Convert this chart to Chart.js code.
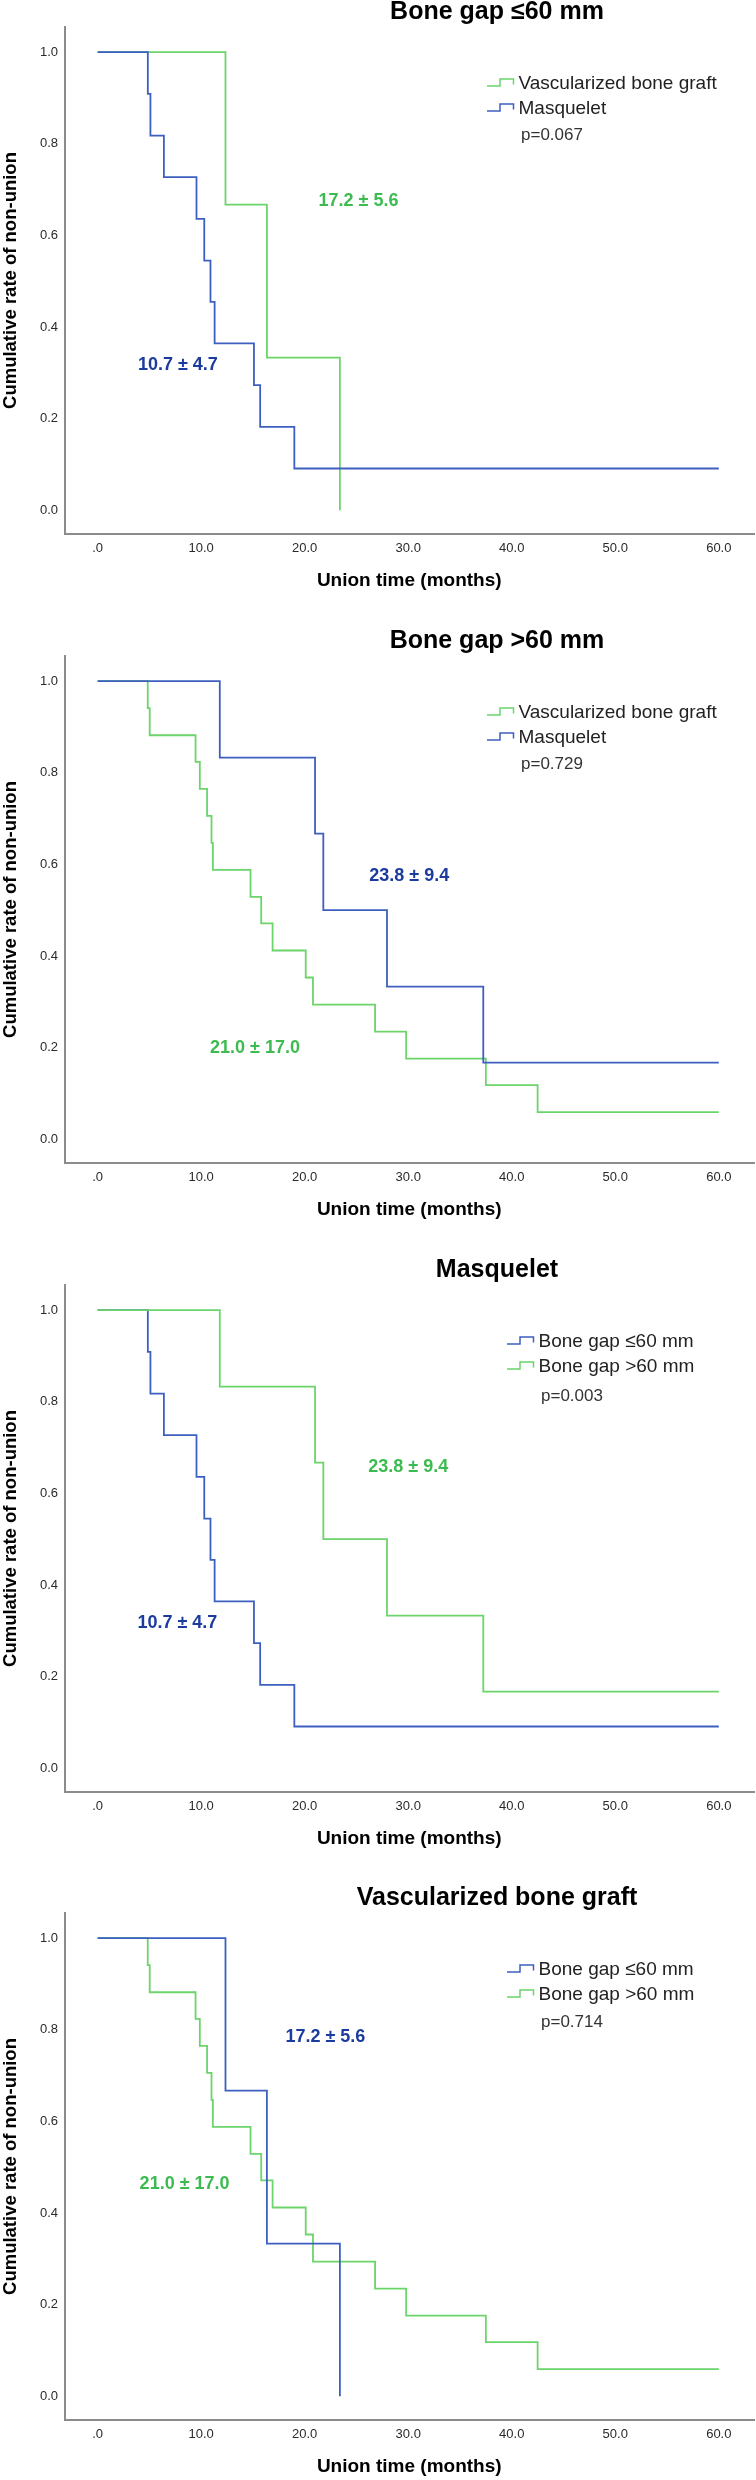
<!DOCTYPE html>
<html>
<head>
<meta charset="utf-8">
<title>Union time - Kaplan-Meier</title>
<script src="https://cdn.jsdelivr.net/npm/chart.js@4.4.1/dist/chart.umd.min.js"></script>
<style>
    html, body { margin: 0; padding: 0; background: #fff; overflow: hidden; }
    #page { position: relative; width: 756px; height: 2480px; }
    .panel { position: absolute; left: 0; width: 756px; height: 620px; }
</style>
</head>
<body>
<div id="page">
    <div class="panel" style="top:0px"><canvas id="chart1" width="756" height="620"></canvas></div>
    <div class="panel" style="top:629px"><canvas id="chart2" width="756" height="620"></canvas></div>
    <div class="panel" style="top:1258px"><canvas id="chart3" width="756" height="620"></canvas></div>
    <div class="panel" style="top:1886px"><canvas id="chart4" width="756" height="620"></canvas></div>
</div>
<script>
// ------------------------------------------------------------------------------------------------- data section
var x_ticks = [0, 10, 20, 30, 40, 50, 60];
var y_ticks = [0, 0.2, 0.4, 0.6, 0.8, 1.0];

// Masquelet, bone gap <=60 mm
var masq_small_time = [0, 4.85, 5.1, 6.4, 9.55, 10.3, 10.9, 11.3, 15.1, 15.7, 19.0, 60];
var masq_small_rate = [1, 0.909, 0.818, 0.727, 0.636, 0.545, 0.455, 0.364, 0.273, 0.182, 0.091, 0.091];

// Masquelet, bone gap >60 mm
var masq_large_time = [0, 11.8, 21.0, 21.8, 27.95, 37.25, 60];
var masq_large_rate = [1, 0.833, 0.667, 0.5, 0.333, 0.167, 0.167];

// Vascularized bone graft, bone gap <=60 mm
var vbg_small_time = [0, 12.35, 16.35, 23.4];
var vbg_small_rate = [1, 0.667, 0.333, 0];

// Vascularized bone graft, bone gap >60 mm
var vbg_large_time = [0, 4.84, 5.03, 9.46, 9.87, 10.57, 11.0, 11.13, 14.77, 15.8, 16.9, 20.1, 20.8, 26.8, 29.8, 37.5, 42.5, 60];
var vbg_large_rate = [1, 0.941, 0.882, 0.824, 0.765, 0.706, 0.647, 0.588, 0.529, 0.471, 0.412, 0.353, 0.294, 0.235, 0.176, 0.118, 0.059, 0.059];

var panel_titles = ['Bone gap \u226460 mm', 'Bone gap >60 mm', 'Masquelet', 'Vascularized bone graft'];
var p_values = ['p=0.067', 'p=0.729', 'p=0.003', 'p=0.714'];
var union_means = ['10.7 \u00b1 4.7', '23.8 \u00b1 9.4', '17.2 \u00b1 5.6', '21.0 \u00b1 17.0'];

// ------------------------------------------------------------------------------------------------- style section
const FONT = "'Liberation Sans', Arial, sans-serif";
const BLUE = '#3d5fc0';
const GREEN = '#6bd46b';
const BLUE_TXT = '#1c3b9e';
const GREEN_TXT = '#3cbc50';

function points(t, r) {
    return t.map(function (v, i) { return { x: v, y: r[i] }; });
}

function km_set(label, t, r, color, order) {
    return {
        label: label,
        data: points(t, r),
        borderColor: color,
        borderWidth: 1.8,
        stepped: 'before',
        pointRadius: 0,
        fill: false,
        order: order
    };
}

// titles, legend, p value and the mean +- sd labels
const kmText = {
    id: 'kmText',
    afterDraw(chart, args, opts) {
        const ctx = chart.ctx;
        const area = chart.chartArea;
        const sx = chart.scales.x, sy = chart.scales.y;
        ctx.save();
        ctx.textBaseline = 'middle';

        ctx.fillStyle = '#000';
        ctx.textAlign = 'center';
        ctx.font = 'bold 25px ' + FONT;
        ctx.fillText(opts.title, 497, 12);

        ctx.font = 'bold 19px ' + FONT;
        ctx.fillText('Union time (months)', (area.left + area.right) / 2, 581);

        ctx.save();
        ctx.translate(11, (area.top + area.bottom) / 2);
        ctx.rotate(-Math.PI / 2);
        ctx.font = 'bold 18.5px ' + FONT;
        ctx.fillText('Cumulative rate of non-union', 0, 0);
        ctx.restore();

        // legend with the little step symbol
        const lx = opts.legendX;
        const rows = [83.5, 108.5];
        chart.data.datasets.forEach(function (ds, i) {
            const ly = rows[i];
            ctx.strokeStyle = ds.borderColor;
            ctx.lineWidth = 1.5;
            ctx.beginPath();
            ctx.moveTo(lx, ly + 2.5);
            ctx.lineTo(lx + 13, ly + 2.5);
            ctx.lineTo(lx + 13, ly - 4.5);
            ctx.lineTo(lx + 26.5, ly - 4.5);
            ctx.lineTo(lx + 26.5, ly + 1);
            ctx.stroke();
            ctx.fillStyle = '#222';
            ctx.textAlign = 'left';
            ctx.font = '19px ' + FONT;
            ctx.fillText(ds.label, lx + 31.5, ly);
        });
        ctx.fillStyle = '#333';
        ctx.font = '17px ' + FONT;
        ctx.fillText(opts.p, lx + 34, opts.pY);

        // mean +- sd
        ctx.textAlign = 'center';
        ctx.font = 'bold 18px ' + FONT;
        opts.notes.forEach(function (n) {
            ctx.fillStyle = n.color;
            ctx.fillText(n.text, sx.getPixelForValue(n.x), sy.getPixelForValue(n.y));
        });
        ctx.restore();
    }
};

function make_chart(id, datasets, opts) {
    const ctx = document.getElementById(id).getContext('2d');
    return new Chart(ctx, {
        type: 'line',
        data: { datasets: datasets },
        options: {
            responsive: false,
            animation: false,
            devicePixelRatio: 1,
            layout: { padding: { top: 27, left: 0, right: 2, bottom: 0 } },
            plugins: {
                legend: { display: false },
                title: { display: false },
                tooltip: { enabled: false },
                kmText: opts
            },
            scales: {
                x: {
                    type: 'linear',
                    min: -3.2,
                    max: 63.4,
                    afterBuildTicks: function (s) { s.ticks = x_ticks.map(function (v) { return { value: v }; }); },
                    afterFit: function (s) { s.height = 86; },
                    grid: { display: false, drawTicks: false },
                    border: { display: true, color: '#8c8c8c', width: 2 },
                    ticks: {
                        padding: 7,
                        color: '#2a2a2a',
                        font: { family: FONT, size: 13 },
                        maxRotation: 0,
                        callback: function (v) { return v === 0 ? '.0' : v.toFixed(1); }
                    }
                },
                y: {
                    type: 'linear',
                    min: -0.052,
                    max: 1.055,
                    afterBuildTicks: function (s) { s.ticks = y_ticks.map(function (v) { return { value: v }; }); },
                    afterFit: function (s) { s.width = 64.5; },
                    grid: { display: false, drawTicks: false },
                    border: { display: true, color: '#8c8c8c', width: 2 },
                    ticks: {
                        padding: 6.5,
                        color: '#2a2a2a',
                        font: { family: FONT, size: 13 },
                        callback: function (v) { return v.toFixed(1); }
                    }
                }
            }
        },
        plugins: [kmText]
    });
}

// 1st chart - bone gap <=60 mm
const chart1 = make_chart('chart1', [
    km_set('Vascularized bone graft', vbg_small_time, vbg_small_rate, GREEN, 1),
    km_set('Masquelet', masq_small_time, masq_small_rate, BLUE, 0)
], {
    title: panel_titles[0], legendX: 487, p: p_values[0], pY: 135,
    notes: [
        { text: union_means[2], x: 25.2, y: 0.676, color: GREEN_TXT },
        { text: union_means[0], x: 7.75, y: 0.317, color: BLUE_TXT }
    ]
});

// 2nd chart - bone gap >60 mm
const chart2 = make_chart('chart2', [
    km_set('Vascularized bone graft', vbg_large_time, vbg_large_rate, GREEN, 1),
    km_set('Masquelet', masq_large_time, masq_large_rate, BLUE, 0)
], {
    title: panel_titles[1], legendX: 487, p: p_values[1], pY: 135,
    notes: [
        { text: union_means[1], x: 30.1, y: 0.575, color: BLUE_TXT },
        { text: union_means[3], x: 15.2, y: 0.198, color: GREEN_TXT }
    ]
});

// 3rd chart - masquelet
const chart3 = make_chart('chart3', [
    km_set('Bone gap \u226460 mm', masq_small_time, masq_small_rate, BLUE, 1),
    km_set('Bone gap >60 mm', masq_large_time, masq_large_rate, GREEN, 0)
], {
    title: panel_titles[2], legendX: 507, p: p_values[2], pY: 138,
    notes: [
        { text: union_means[1], x: 30.0, y: 0.657, color: GREEN_TXT },
        { text: union_means[0], x: 7.7, y: 0.318, color: BLUE_TXT }
    ]
});

// 4th chart - vascularized bone graft
const chart4 = make_chart('chart4', [
    km_set('Bone gap \u226460 mm', vbg_small_time, vbg_small_rate, BLUE, 0),
    km_set('Bone gap >60 mm', vbg_large_time, vbg_large_rate, GREEN, 1)
], {
    title: panel_titles[3], legendX: 507, p: p_values[3], pY: 136,
    notes: [
        { text: union_means[2], x: 22.0, y: 0.784, color: BLUE_TXT },
        { text: union_means[3], x: 8.4, y: 0.463, color: GREEN_TXT }
    ]
});
</script>
</body>
</html>
